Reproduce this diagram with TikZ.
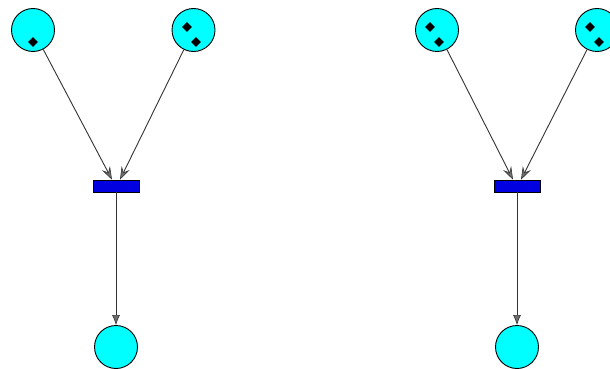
\documentclass[tikz,border=0pt]{standalone}
\usetikzlibrary{arrows.meta,shapes.geometric}
\definecolor{placecyan}{RGB}{0,255,255}
\definecolor{transblue}{RGB}{0,0,225}
\definecolor{tipgray}{RGB}{110,110,110}
\tikzset{
  x=1pt, y=-1pt,
  place/.style={circle, draw=black, fill=placecyan, minimum size=43pt, inner sep=0pt, line width=0.9pt},
  trans/.style={rectangle, draw=black, fill=transblue, minimum width=46pt, minimum height=12pt, inner sep=0pt, line width=0.7pt},
  token/.style={diamond, fill=black, minimum size=10pt, inner sep=0pt},
  arc/.style={draw=black!80, line width=0.9pt, -{Stealth[length=13pt,width=9pt,inset=5pt,fill=tipgray,line width=0.6pt]}},
  outarc/.style={draw=black!80, line width=1pt, -{Latex[length=10pt,width=8pt,fill=tipgray,line width=0.6pt]}}
}
\begin{document}
\begin{tikzpicture}
\useasboundingbox (0,0) rectangle (610,369);
\clip (0,0) rectangle (610,369);
% left net
\node[place] (A) at (33,30) {};
\node[place] (B) at (193.5,30) {};
\node[trans] (T) at (116,186) {};
\node[place] (P) at (116,347) {};
\node[token] (a1) at (33,42) {};
\node[token] (b1) at (187,27) {};
\node[token] (b2) at (196,42) {};
\draw[arc] (A) -- ([xshift=-4pt]T.north);
\draw[arc] (B) -- ([xshift=4pt]T.north);
\draw[outarc] (T.south) -- (P.north);
% right net
\node[place] (C) at (437,30) {};
\node[place] (D) at (597,30) {};
\node[trans] (T2) at (517,186) {};
\node[place] (P2) at (517,347) {};
\node[token] (c1) at (430,27) {};
\node[token] (c2) at (439,42) {};
\node[token] (d1) at (590,27) {};
\node[token] (d2) at (599,42) {};
\draw[arc] (C) -- ([xshift=-4pt]T2.north);
\draw[arc] (D) -- ([xshift=4pt]T2.north);
\draw[outarc] (T2.south) -- (P2.north);
\end{tikzpicture}
\end{document}
